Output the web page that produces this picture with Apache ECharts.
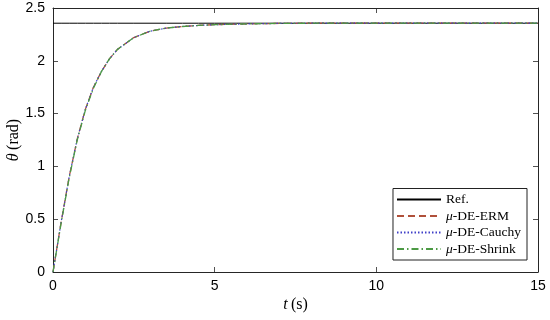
<!DOCTYPE html>
<html>
<head>
<meta charset="utf-8">
<script src="https://cdn.jsdelivr.net/npm/echarts@6/dist/echarts.min.js"></script>
<style>
html,body{margin:0;padding:0;background:#fff;}
#chart{width:550px;height:320px;}
</style>
</head>
<body>
<div id="chart"></div>
<script>
'use strict';

/* ---------- data ---------- */
const T      = [0,0.25,0.5,0.75,1,1.25,1.5,1.75,2,2.5,3,3.5,4,4.5,5,6,7,8,10,12,15];
const REF    = [2.356,2.356,2.356,2.356,2.356,2.356,2.356,2.356,2.356,2.356,2.356,2.356,2.356,2.356,2.356,2.356,2.356,2.356,2.356,2.356,2.356];
const ERM    = [0,0.47,0.90,1.26,1.54,1.75,1.90,2.02,2.11,2.22,2.28,2.31,2.325,2.335,2.342,2.350,2.354,2.356,2.356,2.356,2.356];
const CAUCHY = [0,0.47,0.90,1.26,1.54,1.75,1.90,2.02,2.11,2.22,2.28,2.31,2.325,2.335,2.342,2.350,2.354,2.356,2.356,2.356,2.356];
const SHRINK = [0,0.46,0.89,1.25,1.53,1.74,1.90,2.02,2.11,2.22,2.28,2.31,2.325,2.335,2.342,2.350,2.354,2.356,2.356,2.356,2.356];
const X_TICKS = [0,5,10,15];
const Y_TICKS = [0,0.5,1,1.5,2,2.5];
const NAMES = ['Ref.','μ-DE-ERM','μ-DE-Cauchy','μ-DE-Shrink'];

const C = {ink:'#262626', ref:'#000000', erm:'#B0503A', cauchy:'#4040C8', shrink:'#4C9A44',
  sans:'"Liberation Sans",Arial,sans-serif', serif:'"Liberation Serif","DejaVu Serif",serif'};

const pairs = ys => T.map((t,i)=>[t,ys[i]]);

const tickCommon = {show:true,inside:true,length:5,lineStyle:{color:C.ink,width:0.8}};
const lineCommon = {show:true,onZero:false,lineStyle:{color:C.ink,width:1}};

function mathName(sym, unit){ return `{i|${sym}} {n|(${unit})}`; }
const nameRich = {
  i:{fontFamily:C.serif,fontStyle:'italic',fontSize:16,color:'#000'},
  n:{fontFamily:C.serif,fontSize:16,color:'#000'},
};

function series(name, ys, color, type, width){
  return {name,type:'line',data:pairs(ys),showSymbol:false,symbol:'none',smooth:false,
    lineStyle:{color,width,type},itemStyle:{color},animation:false};
}

const chart = echarts.init(document.getElementById('chart'),null,{renderer:'canvas'});
chart.setOption({
  animation:false,
  backgroundColor:'#fff',
  grid:{left:53,right:12,top:8,bottom:48,containLabel:false,outerBoundsMode:'none'},
  legend:{
    data:NAMES, orient:'vertical', right:23, bottom:60,
    itemWidth:44, itemHeight:10, itemGap:2.5,
    padding:[4,6,4,3],
    backgroundColor:'#fff', borderColor:'#222', borderWidth:1,
    itemStyle:{opacity:0},
    textStyle:{fontFamily:C.serif,fontSize:13.5,color:'#000',
      rich:{mu:{fontFamily:C.serif,fontStyle:'italic',fontSize:13.5,color:'#000'},
            t:{fontFamily:C.serif,fontSize:13.5,color:'#000'}}},
    formatter:n=> n.startsWith('μ') ? `{mu|μ}{t|${n.slice(1)}}` : `{t|${n}}`,
  },
  xAxis:[
    {type:'value',min:0,max:15,interval:5,position:'bottom',
     axisLine:lineCommon,axisTick:tickCommon,splitLine:{show:false},
     axisLabel:{color:'#000',fontFamily:C.sans,fontSize:14,margin:7,customValues:X_TICKS},
     name:mathName('t','s'),nameLocation:'middle',nameGap:25,nameMoveOverlap:false,nameTextStyle:{rich:nameRich}},
    {type:'value',min:0,max:15,interval:5,position:'top',
     axisLine:lineCommon,axisTick:tickCommon,axisLabel:{show:false},splitLine:{show:false}},
  ],
  yAxis:[
    {type:'value',min:0,max:2.5,interval:0.5,position:'left',
     axisLine:lineCommon,axisTick:tickCommon,splitLine:{show:false},
     axisLabel:{color:'#000',fontFamily:C.sans,fontSize:14,margin:8,customValues:Y_TICKS},
     name:mathName('θ','rad'),nameLocation:'middle',nameGap:31,nameRotate:90,nameMoveOverlap:false,
     nameTextStyle:{rich:nameRich}},
    {type:'value',min:0,max:2.5,interval:0.5,position:'right',
     axisLine:lineCommon,axisTick:tickCommon,axisLabel:{show:false},splitLine:{show:false}},
  ],
  series:[
    series(NAMES[0], REF, C.ref, 'solid', 1),
    series(NAMES[1], ERM, C.erm, [7,4], 1.3),
    series(NAMES[2], CAUCHY, C.cauchy, [1.5,2], 1.2),
    series(NAMES[3], SHRINK, C.shrink, [7,3,1.5,3], 1.3),
  ],
});
</script>
</body>
</html>
